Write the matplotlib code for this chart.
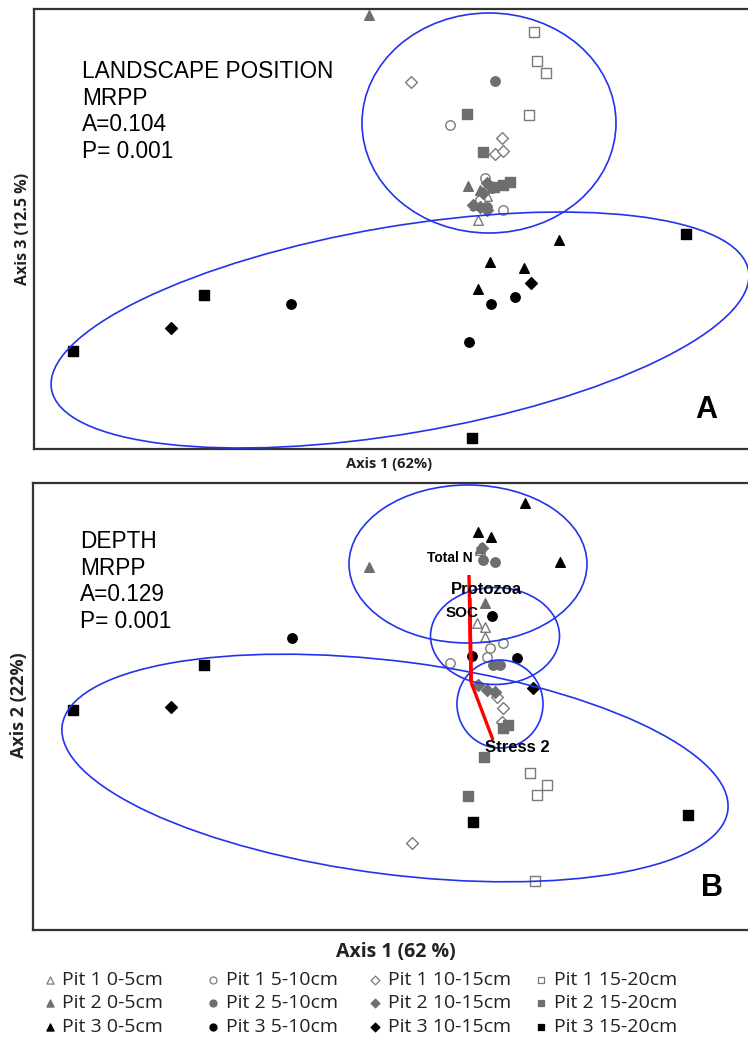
import matplotlib
matplotlib.use('Agg')
import matplotlib.pyplot as plt
from matplotlib.patches import Ellipse

# groups: (pit, depth)
pits = ["Pit 1", "Pit 2", "Pit 3"]
depths = ["0-5cm", "5-10cm", "10-15cm", "15-20cm"]

# panel A: Axis 1 vs Axis 3 (scores, screen units)
a_pts = {
    ("Pit 1", "0-5cm"):   ([478, 483, 475, 487], [220, 192, 205, 196]),
    ("Pit 1", "5-10cm"):  ([450, 485, 503, 480], [125, 178, 210, 200]),
    ("Pit 1", "10-15cm"): ([411, 502, 495, 503], [82, 138, 154, 151]),
    ("Pit 1", "15-20cm"): ([534, 537, 546, 529], [32, 61, 73, 115]),
    ("Pit 2", "0-5cm"):   ([369, 468, 480], [15, 186, 190]),
    ("Pit 2", "5-10cm"):  ([495, 487, 492], [81, 207, 188]),
    ("Pit 2", "10-15cm"): ([487, 483, 480, 487, 473], [183, 193, 207, 210, 205]),
    ("Pit 2", "15-20cm"): ([467, 483, 510, 503, 494], [114, 152, 182, 185, 187]),
    ("Pit 3", "0-5cm"):   ([559, 490, 524, 478], [240, 262, 268, 289]),
    ("Pit 3", "5-10cm"):  ([291, 491, 515, 469], [304, 304, 297, 342]),
    ("Pit 3", "10-15cm"): ([531, 171], [283, 328]),
    ("Pit 3", "15-20cm"): ([686, 204, 73, 472], [234, 295, 351, 438]),
}

# panel B: Axis 1 vs Axis 2
b_pts = {
    ("Pit 1", "0-5cm"):   ([477, 485, 485, 480], [623, 627, 637, 550]),
    ("Pit 1", "5-10cm"):  ([450, 503, 490, 487], [663, 643, 648, 657]),
    ("Pit 1", "10-15cm"): ([412, 497, 503, 502], [843, 697, 708, 722]),
    ("Pit 1", "15-20cm"): ([530, 547, 537, 535], [773, 785, 795, 881]),
    ("Pit 2", "0-5cm"):   ([369, 485, 480], [567, 603, 548]),
    ("Pit 2", "5-10cm"):  ([483, 495, 493, 500], [560, 562, 665, 665]),
    ("Pit 2", "10-15cm"): ([478, 487, 495, 482], [685, 690, 692, 548]),
    ("Pit 2", "15-20cm"): ([484, 468, 508, 503], [757, 796, 725, 728]),
    ("Pit 3", "0-5cm"):   ([525, 478, 491, 560], [503, 532, 537, 562]),
    ("Pit 3", "5-10cm"):  ([292, 492, 472, 517], [638, 616, 656, 658]),
    ("Pit 3", "10-15cm"): ([171, 533], [707, 688]),
    ("Pit 3", "15-20cm"): ([73, 204, 473, 688], [710, 665, 822, 815]),
}

# group ellipses: centre x, centre y, width, height, angle
a_ellipses = [(489, 123, 254, 220, 0), (400, 330, 707, 207, -9.65)]
b_ellipses = [(468, 564, 238, 158, 0), (495, 636, 129, 97, 0),
              (500, 704, 86, 88, 0), (395, 768, 671, 213, 7.25)]

# biplot vectors (origin, then tips) and labels
vec_origin = (471, 682)
vec_names = ["Total N", "Protozoa", "SOC", "Stress 2"]
vec_tips = [(469, 575), (470, 598), (470, 610), (493, 740)]

marker_of = {"0-5cm": "^", "5-10cm": "o", "10-15cm": "D", "15-20cm": "s"}
size_of = {"0-5cm": 48, "5-10cm": 46, "10-15cm": 36, "15-20cm": 46}
face_of = {"Pit 1": "white", "Pit 2": "#6e6e6e", "Pit 3": "black"}
edge_of = {"Pit 1": "#7a7a7a", "Pit 2": "#6e6e6e", "Pit 3": "black"}

W, H = 748, 1038
fig = plt.figure(figsize=(W / 100, H / 100), dpi=100)

axA = fig.add_axes([34 / W, 1 - 449 / H, 720 / W, 440 / H])
axB = fig.add_axes([33 / W, 1 - 930 / H, 721 / W, 447 / H])
axA.set_xlim(34, 754)
axA.set_ylim(449, 9)
axB.set_xlim(33, 754)
axB.set_ylim(930, 483)


def draw(ax, pts, ellipses):
    for pit in pits:
        for d in depths:
            x, y = pts[(pit, d)]
            ax.scatter(x, y, marker=marker_of[d], s=size_of[d],
                       facecolor=face_of[pit], edgecolor=edge_of[pit],
                       linewidth=1.0, zorder=3)
    for cx, cy, w, h, ang in ellipses:
        ax.add_patch(Ellipse((cx, cy), w, h, angle=ang, fill=False,
                             edgecolor="#2233ee", linewidth=1.2, zorder=4))
    ax.set_xticks([])
    ax.set_yticks([])
    for side in ["top", "left", "bottom"]:
        ax.spines[side].set_linewidth(1.6)
        ax.spines[side].set_color("#333333")
    ax.spines["right"].set_visible(False)


draw(axA, a_pts, a_ellipses)
draw(axB, b_pts, b_ellipses)

for tx, ty in vec_tips:
    axB.plot([vec_origin[0], tx], [vec_origin[1], ty], color="red",
             linewidth=2.4, zorder=5, solid_capstyle="butt")

txt = dict(fontfamily="Liberation Sans", fontweight="bold", zorder=6)
axB.text(473, 558, "Total N", ha="right", va="center", fontsize=10, **txt)
axB.text(451, 589, "Protozoa", ha="left", va="center", fontsize=12, **txt)
axB.text(446, 613, "SOC", ha="left", va="center", fontsize=11, **txt)
axB.text(485, 747, "Stress 2", ha="left", va="center", fontsize=12, **txt)

axA.text(82, 60, "LANDSCAPE POSITION\nMRPP\nA=0.104\nP= 0.001",
         fontfamily="Liberation Sans", fontsize=16.3, va="top",
         linespacing=1.2)
axB.text(80, 530, "DEPTH\nMRPP\nA=0.129\nP= 0.001",
         fontfamily="Liberation Sans", fontsize=16.3, va="top",
         linespacing=1.2)

axA.text(706, 410, "A", fontfamily="Liberation Sans", fontweight="bold",
         fontsize=22, ha="center", va="center")
axB.text(712, 888, "B", fontfamily="Liberation Sans", fontweight="bold",
         fontsize=22, ha="center", va="center")

lab = dict(fontfamily="Open Sans", fontweight="bold", color="#222222")
fig.text(389 / W, 1 - 464 / H, "Axis 1 (62%)", ha="center", va="center",
         fontsize=10.5, **lab)
fig.text(23 / W, 1 - 229 / H, "Axis 3 (12.5 %)", ha="center", va="center",
         rotation=90, fontsize=11.5, **lab)
fig.text(396 / W, 1 - 952 / H, "Axis 1 (62 %)", ha="center", va="center",
         fontsize=14, **lab)
fig.text(19 / W, 1 - 705 / H, "Axis 2 (22%)", ha="center", va="center",
         rotation=90, fontsize=13, **lab)

# legend, drawn on an overlay axes in figure pixels
leg_marker_x = [50, 213, 375, 541]
leg_text_x = [62, 226, 388, 554]
leg_row_y = [980, 1003, 1027]
axL = fig.add_axes([0, 0, 1, 1], zorder=-1)
axL.set_xlim(0, W)
axL.set_ylim(H, 0)
axL.axis("off")
for j, d in enumerate(depths):
    for i, pit in enumerate(pits):
        axL.scatter([leg_marker_x[j]], [leg_row_y[i]], marker=marker_of[d],
                    s=size_of[d] * 0.55, facecolor=face_of[pit],
                    edgecolor=edge_of[pit], linewidth=0.9)
        axL.text(leg_text_x[j], leg_row_y[i], pit + " " + d, ha="left",
                 va="center", fontfamily="Open Sans", fontsize=14,
                 color="#222222")

fig.savefig("out.png", dpi=100)
